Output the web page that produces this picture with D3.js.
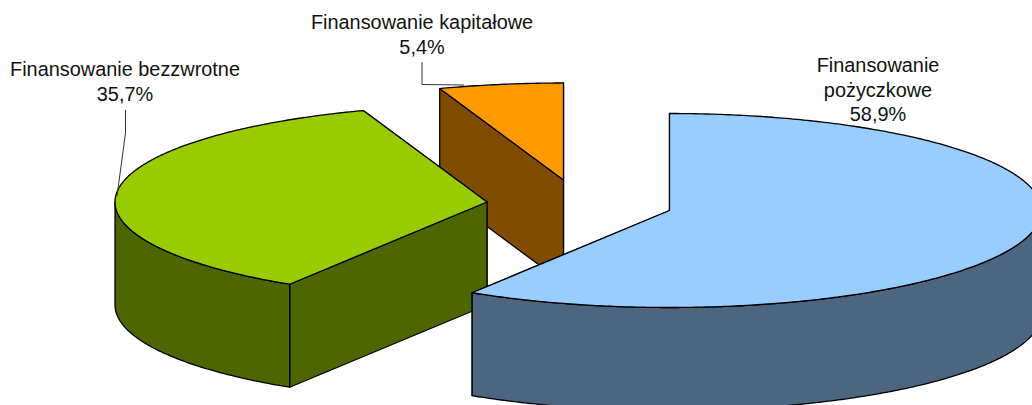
<!DOCTYPE html>
<html>
<head>
<meta charset="utf-8">
<script src="https://cdn.jsdelivr.net/npm/d3@7/dist/d3.min.js"></script>
<style>
html,body{margin:0;padding:0;background:#fff;overflow:hidden}
svg{display:block}
text{font-family:"Liberation Sans",Arial,sans-serif;font-size:19.9px;fill:#111;text-anchor:middle}
</style>
</head>
<body>
<svg id="chart" width="1032" height="405"></svg>
<script>
const categories = ["Finansowanie pożyczkowe", "Finansowanie bezzwrotne", "Finansowanie kapitałowe"];
const shares = [58.9, 35.7, 5.4];
const shareLabels = ["58,9%", "35,7%", "5,4%"];
const topColors = ["#99ccff", "#99cc00", "#ff9900"];
const sideColors = ["#4d6680", "#4d6600", "#804d00"];

const W = 1032, H = 405, RX = 372, RY = 97, DEPTH = 103;
const centers = [[669.5, 210.5], [487, 202], [563.5, 180]];
const labelLines = [
  [["Finansowanie", 878, 72], ["pożyczkowe", 878, 97], ["58,9%", 878, 121]],
  [["Finansowanie bezzwrotne", 125, 76], ["35,7%", 125, 101]],
  [["Finansowanie kapitałowe", 422, 29], ["5,4%", 422, 54]]
];

const sx = d3.scaleLinear().domain([-1, 1]).range([-RX, RX]);
const sy = d3.scaleLinear().domain([-1, 1]).range([-RY, RY]);
const arcs = d3.pie().sort(null).value(d => d)(shares);
const line = d3.line();
const svg = d3.select("#chart");
const pt = (a, c, dz = 0) => [c[0] + sx(Math.sin(a)), c[1] + sy(-Math.cos(a)) + dz];
const angles = (a0, a1) => {
  const n = Math.max(2, Math.ceil((a1 - a0) / 0.01));
  return d3.range(n + 1).map(i => a0 + (a1 - a0) * i / n);
};

// draw back to front: capital, non-repayable, loan
[2, 1, 0].forEach(i => {
  const d = arcs[i], c = centers[i], g = svg.append("g");
  const style = (p, fill) => p.attr("fill", fill).attr("stroke", "#000").attr("stroke-width", 1.3).attr("stroke-linejoin", "round");
  // cut faces: the end face first so the start face hides it
  [d.endAngle, d.startAngle].forEach(a => {
    const e = pt(a, c);
    style(g.append("path").attr("d", line([c, e, [e[0], e[1] + DEPTH], [c[0], c[1] + DEPTH]]) + "Z"), sideColors[i]);
  });
  // outer wall, front half only
  const w0 = Math.max(d.startAngle, Math.PI / 2), w1 = Math.min(d.endAngle, 3 * Math.PI / 2);
  if (w1 > w0) {
    const as = angles(w0, w1);
    const pts = as.map(a => pt(a, c)).concat(as.slice().reverse().map(a => pt(a, c, DEPTH)));
    style(g.append("path").attr("d", line(pts) + "Z"), sideColors[i]);
  }
  // top
  const topPts = [c].concat(angles(d.startAngle, d.endAngle).map(a => pt(a, c)));
  style(g.append("path").attr("d", line(topPts) + "Z"), topColors[i]);
});

// leader lines
[[[422, 62], [422, 84.5], [464, 85]], [[125.5, 110], [125.5, 133], [117, 196]]].forEach(l => {
  svg.append("path").attr("d", line(l)).attr("fill", "none").attr("stroke", "#333").attr("stroke-width", 1);
});

labelLines.forEach(ls => ls.forEach(([t, x, y]) => {
  svg.append("text").attr("x", x).attr("y", y).text(t);
}));
</script>
</body>
</html>
